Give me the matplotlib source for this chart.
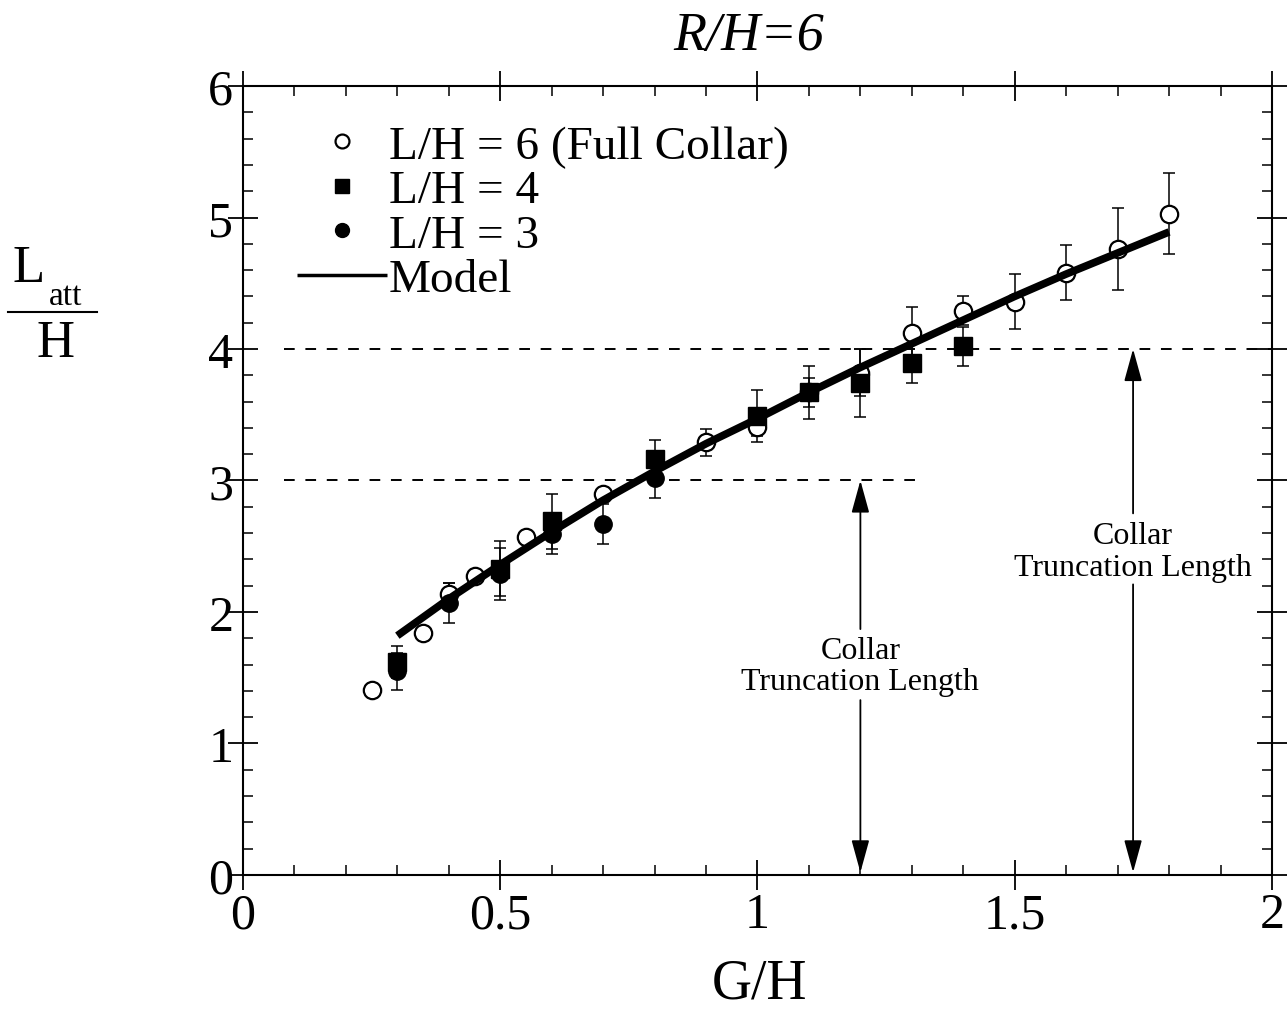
import matplotlib
matplotlib.use("Agg")
import matplotlib.pyplot as plt
import matplotlib.ticker as mticker
from matplotlib.lines import Line2D

plt.rcParams.update({
    "font.family": "Liberation Serif",
    "mathtext.fontset": "stix",
})

# L/H = 6 (full collar), open circles
full_x = [0.25, 0.35, 0.40, 0.45, 0.55, 0.70, 0.90, 1.00, 1.10, 1.20, 1.30, 1.40, 1.50, 1.60, 1.70, 1.80]
full_y = [1.41, 1.84, 2.14, 2.27, 2.57, 2.90, 3.29, 3.41, 3.67, 3.82, 4.12, 4.29, 4.36, 4.58, 4.76, 5.03]
full_err = [0.0, 0.02, 0.08, 0.02, 0.02, 0.02, 0.10, 0.07, 0.11, 0.18, 0.20, 0.11, 0.21, 0.21, 0.31, 0.31]

# L/H = 4, filled squares
sq_x = [0.30, 0.50, 0.60, 0.80, 1.00, 1.10, 1.20, 1.30, 1.40]
sq_y = [1.62, 2.33, 2.69, 3.16, 3.49, 3.67, 3.74, 3.89, 4.02]
sq_err = [0.12, 0.21, 0.21, 0.15, 0.20, 0.20, 0.26, 0.15, 0.15]

# L/H = 3, filled circles
dot_x = [0.30, 0.40, 0.50, 0.60, 0.70, 0.80]
dot_y = [1.55, 2.07, 2.29, 2.59, 2.67, 3.02]
dot_err = [0.14, 0.15, 0.20, 0.15, 0.15, 0.15]

# model curve
model_x = [0.3, 0.4, 0.5, 0.6, 0.7, 0.8, 0.9, 1.0, 1.1, 1.2, 1.3, 1.4, 1.5, 1.6, 1.7, 1.8]
model_y = [1.82, 2.10, 2.36, 2.61, 2.85, 3.07, 3.28, 3.47, 3.67, 3.86, 4.04, 4.22, 4.40, 4.57, 4.73, 4.89]

# collar truncation lengths: level, dashed line end, arrow x, label y, gap around label
trunc_levels = [3.0, 4.0]
trunc_xmax = [1.32, 2.0]
trunc_arrow_x = [1.2, 1.73]
trunc_text_y = [1.59, 2.46]
trunc_gap = [(1.33, 1.87), (2.21, 2.75)]

x_ticks = [0, 0.5, 1, 1.5, 2]
y_ticks = [0, 1, 2, 3, 4, 5, 6]

fig = plt.figure(figsize=(12.88, 10.12), dpi=100)
ax = fig.add_axes([0.18866, 0.13439, 0.79891, 0.77964])

ebkw = dict(fmt="none", ecolor="black", elinewidth=1.1, capsize=4.3, capthick=1.1, zorder=2)
ax.errorbar(full_x, full_y, yerr=full_err, **ebkw)
ax.errorbar(sq_x, sq_y, yerr=sq_err, **ebkw)
ax.errorbar(dot_x, dot_y, yerr=dot_err, **ebkw)

ax.plot(full_x, full_y, "o", ms=12.5, mfc="white", mec="black", mew=1.6,
        label="L/H = 6 (Full Collar)", zorder=3)
ax.plot(sq_x, sq_y, "s", ms=12.5, color="black", label="L/H = 4", zorder=3)
ax.plot(dot_x, dot_y, "o", ms=12.5, color="black", label="L/H = 3", zorder=3)
ax.plot(model_x, model_y, "-", color="black", lw=5.5, solid_capstyle="butt",
        label="Model", zorder=4)

for lvl, xmax, xa, ty, (g0, g1) in zip(trunc_levels, trunc_xmax, trunc_arrow_x,
                                        trunc_text_y, trunc_gap):
    ax.plot([0.08, xmax], [lvl, lvl], color="black", lw=1.4, dashes=(5.5, 5.5), zorder=1)
    arrow = dict(arrowstyle="-|>,head_length=2.0,head_width=0.55", color="black",
                 lw=1.3, shrinkA=0, shrinkB=0)
    ax.annotate("", xy=(xa, lvl), xytext=(xa, g1), arrowprops=arrow)
    ax.annotate("", xy=(xa, 0.02), xytext=(xa, g0), arrowprops=arrow)
    ax.text(xa, ty, "Collar\nTruncation Length", ha="center", va="center",
            fontsize=23, linespacing=1.1)

ax.set_xlim(0, 2)
ax.set_ylim(0, 6)
ax.set_xticks(x_ticks)
ax.set_yticks(y_ticks)
fmt = mticker.FuncFormatter(lambda v, _: f"{v:g}")
ax.xaxis.set_major_formatter(fmt)
ax.yaxis.set_major_formatter(fmt)
ax.xaxis.set_minor_locator(mticker.MultipleLocator(0.1))
ax.yaxis.set_minor_locator(mticker.MultipleLocator(0.2))
ax.tick_params(which="major", direction="inout", length=22, width=1.3,
               top=True, right=True, labelsize=36)
ax.tick_params(axis="x", which="major", pad=1)
ax.tick_params(axis="y", which="major", pad=-4)
ax.tick_params(which="minor", direction="in", length=7, width=1.1,
               top=True, right=True)
for sp in ax.spines.values():
    sp.set_linewidth(1.5)

ax.set_xlabel("G/H", fontsize=40)
ax.xaxis.set_label_coords(0.502, -0.104)
ax.xaxis.label.set_va("top")

leg = ax.legend(loc="upper left", bbox_to_anchor=(0.0525, 0.951), frameon=False,
                fontsize=34, handlelength=1.9, handletextpad=0.05, labelspacing=0.03,
                borderpad=0, borderaxespad=0, markerscale=0.8)
leg.legend_handles[3].set_linewidth(2.5)

# stacked fraction label on the y axis
fig.text(0.0225, 1 - 282 / 1012, "L", fontsize=38, ha="center", va="baseline")
fig.text(0.0512, 1 - 305 / 1012, "att", fontsize=24, ha="center", va="baseline")
fig.add_artist(Line2D([8 / 1288, 97 / 1288], [1 - 313 / 1012] * 2,
                      transform=fig.transFigure, color="black", lw=1.5))
fig.text(0.0430, 1 - 357 / 1012, "H", fontsize=38, ha="center", va="baseline")

fig.text(0.581, 1 - 50 / 1012, "R/H=6", fontsize=39, style="italic",
         ha="center", va="baseline")

fig.savefig("out.png", dpi=100)
